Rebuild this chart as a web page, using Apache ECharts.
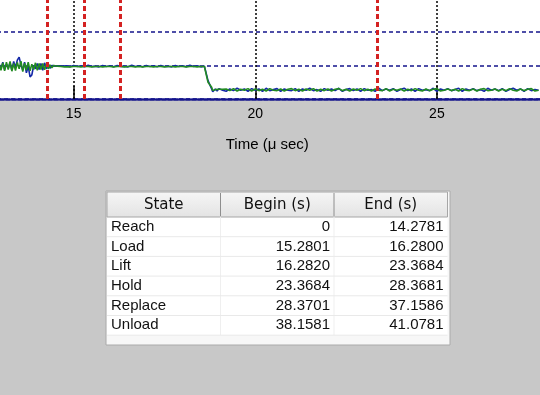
<!DOCTYPE html>
<html>
<head>
<meta charset="utf-8">
<script src="https://cdn.jsdelivr.net/npm/echarts@6/dist/echarts.min.js"></script>
<style>
html,body{margin:0;padding:0;background:#c8c8c8;overflow:hidden;width:540px;height:395px;position:relative;}
#chart{position:absolute;left:-108px;top:-35px;width:727px;height:430px;}
</style>
</head>
<body>
<div id="chart"></div>
<script>
// ---- data ----
const states = ['Reach', 'Load', 'Lift', 'Hold', 'Replace', 'Unload'];
const beginTimes = [0, 15.2801, 16.2820, 23.3684, 28.3701, 38.1581];
const endTimes = [14.2781, 16.2800, 23.3684, 28.3681, 37.1586, 41.0781];
const tableHeaders = ['State', 'Begin (s)', 'End (s)'];
const xTicks = [10, 15, 20, 25, 30];
const xLabel = 'Time (\u03bc sec)';

const time = [
  12.90,12.95,13.00,13.05,13.10,13.15,13.20,13.25,13.30,13.35,13.40,13.45,13.50,13.55,13.60,13.65,13.70,13.75,13.80,13.85,
  13.90,13.95,14.00,14.05,14.10,14.15,14.20,14.25,14.30,14.35,14.40,14.45,14.50,14.55,14.60,14.65,14.70,14.75,
  14.8,14.9,15.0,15.1,15.2,15.3,15.4,15.5,15.6,15.7,15.8,15.9,16.0,16.1,16.2,16.3,16.4,16.5,16.6,16.7,16.8,16.9,
  17.0,17.1,17.2,17.3,17.4,17.5,17.6,17.7,17.8,17.9,18.0,18.1,18.2,18.3,18.4,18.5,18.6,18.7,18.8,
  18.83,18.86,18.90,18.95,19.00,19.05,19.10,19.15,
  19.2,19.3,19.4,19.5,19.6,19.7,19.8,19.9,20.0,20.1,20.2,20.3,20.4,20.5,20.6,20.7,20.8,20.9,21.0,21.1,
  21.2,21.3,21.4,21.5,21.6,21.7,21.8,21.9,22.0,22.1,22.2,22.3,22.4,22.5,22.6,22.7,22.8,22.9,23.0,23.1,
  23.2,23.3,23.4,23.5,23.6,23.7,23.8,23.9,24.0,24.1,24.2,24.3,24.4,24.5,24.6,24.7,24.8,24.9,25.0,25.1,
  25.2,25.3,25.4,25.5,25.6,25.7,25.8,25.9,26.0,26.1,26.2,26.3,26.4,26.5,26.6,26.7,26.8,26.9,27.0,27.1,
  27.2,27.3,27.4,27.5,27.6,27.7,27.8,27.9,28.0
];

const greenSignal = [
  0.92,1.05,0.86,1.08,0.84,1.10,0.88,1.12,0.83,1.06,0.85,1.09,0.90,1.13,0.82,1.07,0.86,1.10,0.84,1.04,
  0.88,1.08,0.86,1.06,0.88,1.06,0.87,1.05,0.90,1.02,0.93,1.00,0.95,0.98,0.96,0.97,0.97,0.96,
  0.97,0.96,0.97,0.97,0.96,0.97,0.97,0.96,0.97,0.97,0.96,0.97,0.97,0.96,0.97,0.97,0.96,0.97,0.97,0.96,
  0.97,0.96,0.97,0.97,0.96,0.97,0.97,0.96,0.97,0.97,0.96,0.97,0.97,0.96,0.97,0.97,0.96,0.97,0.97,
  0.50,0.35,0.25,0.22,0.28,0.25,0.29,0.27,
  0.29,0.24,0.30,0.25,0.31,0.24,0.29,0.26,0.31,0.24,0.30,0.25,0.29,0.24,0.31,0.26,0.25,0.30,0.24,0.29,
  0.31,0.25,0.29,0.24,0.30,0.26,0.31,0.24,0.29,0.25,0.30,0.24,0.29,0.31,0.25,0.29,0.24,0.30,0.26,0.31,
  0.25,0.29,0.24,0.30,0.26,0.25,0.31,0.24,0.29,0.26,0.30,0.24,0.29,0.25,0.31,0.26,0.24,0.30,0.25,0.29,
  0.31,0.24,0.26,0.30,0.25,0.29,0.24,0.31,0.26,0.25,0.30,0.24,0.29,0.31,0.25,0.26,0.30,0.24,0.29,0.25,
  0.31,0.26,0.24,0.30,0.25,0.29,0.31,0.24,0.26
];

const blueSignal = [
  0.96,1.02,0.90,1.10,0.88,1.04,0.92,1.08,0.86,1.12,0.94,1.16,1.25,1.02,0.86,1.10,0.78,0.98,0.66,0.72,
  1.00,0.90,1.06,0.88,1.06,0.86,1.08,0.90,1.04,0.92,1.00,0.95,0.99,0.96,0.99,0.96,0.98,0.97,
  0.99,0.96,1.00,0.97,0.99,0.96,1.01,0.97,0.98,0.96,1.00,0.97,0.99,0.96,1.00,0.97,0.98,0.96,1.01,0.97,
  0.99,0.96,1.00,0.97,0.99,0.96,1.00,0.97,0.98,0.96,1.00,0.97,0.99,0.96,1.01,0.97,0.99,0.96,0.98,
  0.55,0.30,0.22,0.20,0.30,0.24,0.31,0.26,
  0.26,0.31,0.23,0.30,0.25,0.32,0.26,0.30,0.23,0.31,0.26,0.30,0.23,0.32,0.25,0.28,0.31,0.23,0.30,0.26,
  0.25,0.31,0.23,0.30,0.26,0.32,0.25,0.28,0.23,0.31,0.26,0.30,0.25,0.32,0.23,0.28,0.31,0.25,0.30,0.23,
  0.31,0.26,0.28,0.23,0.32,0.25,0.30,0.26,0.31,0.23,0.28,0.32,0.25,0.30,0.23,0.31,0.26,0.28,0.25,0.32,
  0.23,0.30,0.26,0.31,0.25,0.28,0.32,0.23,0.30,0.26,0.31,0.25,0.28,0.23,0.32,0.26,0.30,0.25,0.31,0.23,
  0.28,0.32,0.26,0.30,0.23,0.31,0.25,0.28,0.26
];

// ---- build ----
const xMin = xTicks[0], xMax = xTicks[xTicks.length - 1];
const zip = (a, b) => a.map((t, i) => [t, b[i]]);
const fmt = v => v === 0 ? '0' : v.toFixed(4);

const boundaries = [];
beginTimes.concat(endTimes).forEach(v => {
  if (v > xMin && v < xMax && boundaries.indexOf(v) < 0) boundaries.push(v);
});

// the chart canvas is offset so the visible window starts at (offX, offY)
const offX = 108, offY = 35;

// table graphics
const tX = 106 + offX, tY = 191 + offY, tW = 344, tH = 154;
const colEdges = [107, 220.5, 334, 447.5].map(v => v + offX);
const headH = 25, rowH = 19.7;
const bodyTop = tY + 1 + headH;
const g = [];
g.push({type:'rect', shape:{x:tX, y:tY, width:tW, height:tH}, style:{fill:'#f7f7f7', stroke:'#aaaaaa', lineWidth:1}});
g.push({type:'rect', shape:{x:colEdges[0], y:bodyTop, width:colEdges[3]-colEdges[0], height:rowH*states.length}, style:{fill:'#ffffff'}});
g.push({type:'rect', shape:{x:colEdges[0], y:tY+1, width:colEdges[3]-colEdges[0], height:headH},
  style:{fill:new echarts.graphic.LinearGradient(0,0,0,1,[{offset:0,color:'#f6f6f6'},{offset:1,color:'#e3e3e3'}]), stroke:'#a6a6a6', lineWidth:1}});
[1,2].forEach(c => {
  g.push({type:'line', shape:{x1:colEdges[c], y1:tY+2, x2:colEdges[c], y2:bodyTop-1}, style:{stroke:'#8e8e8e', lineWidth:1}});
  g.push({type:'line', shape:{x1:colEdges[c], y1:bodyTop, x2:colEdges[c], y2:bodyTop+rowH*states.length}, style:{stroke:'#efefef', lineWidth:1}});
});
tableHeaders.forEach((h, c) => {
  g.push({type:'text', style:{text:h, x:(colEdges[c]+colEdges[c+1])/2, y:tY+1+headH/2+0.5, textAlign:'center', textVerticalAlign:'middle',
    font:'15px "DejaVu Sans"', fill:'#111111'}});
});
states.forEach((s, i) => {
  const cy = bodyTop + rowH*(i+0.5);
  g.push({type:'line', shape:{x1:colEdges[0], y1:bodyTop+rowH*(i+1), x2:colEdges[3], y2:bodyTop+rowH*(i+1)}, style:{stroke:'#e9e9e9', lineWidth:1}});
  g.push({type:'text', style:{text:s, x:colEdges[0]+4, y:cy, textAlign:'left', textVerticalAlign:'middle', font:'15px "Liberation Sans"', fill:'#111'}});
  g.push({type:'text', style:{text:fmt(beginTimes[i]), x:colEdges[2]-4, y:cy, textAlign:'right', textVerticalAlign:'middle', font:'15px "Liberation Sans"', fill:'#111'}});
  g.push({type:'text', style:{text:fmt(endTimes[i]), x:colEdges[3]-4, y:cy, textAlign:'right', textVerticalAlign:'middle', font:'15px "Liberation Sans"', fill:'#111'}});
});

const chart = echarts.init(document.getElementById('chart'), null, {renderer:'canvas'});
chart.setOption({
  backgroundColor: '#c8c8c8',
  animation: false,
  grid: {left: 0, right: 0.5, top: 0, bottom: 296, show: true, backgroundColor: '#ffffff', borderWidth: 0,
    containLabel: false, outerBoundsMode: 'none'},
  xAxis: {
    type: 'value', min: xMin, max: xMax, interval: 5,
    name: xLabel, nameLocation: 'middle', nameGap: 38,
    nameTextStyle: {fontSize: 15, color: '#000', fontFamily: 'Liberation Sans', padding: [0,0,0,24]},
    axisLine: {show: true, lineStyle: {color: '#14148c', width: 2.5, type: [4,2]}},
    axisTick: {show: true, inside: true, length: 13, lineStyle: {color: '#000', width: 1.5}},
    axisLabel: {fontSize: 14, color: '#000', fontFamily: 'Liberation Sans', margin: 8, showMinLabel: false, showMaxLabel: false},
    splitLine: {show: true, lineStyle: {color: '#000', width: 1.5, type: [2,2]}}
  },
  yAxis: {
    type: 'value', min: 0, max: 4, interval: 1,
    axisLine: {show: false}, axisTick: {show: false}, axisLabel: {show: false},
    splitLine: {show: true, lineStyle: {color: '#14148c', width: 1.5, type: [4,3]}}
  },
  series: [
    {type: 'line', name: 'blue', data: zip(time, blueSignal), showSymbol: false, symbol: 'none',
      lineStyle: {color: '#1428a8', width: 1.6}, z: 3,
      markLine: {silent: true, symbol: 'none', label: {show: false},
        lineStyle: {color: '#d42222', width: 3, type: [5,3]},
        data: boundaries.map(v => ({xAxis: v}))}},
    {type: 'line', name: 'green', data: zip(time, greenSignal), showSymbol: false, symbol: 'none',
      lineStyle: {color: '#228b22', width: 1.6}, z: 4}
  ],
  graphic: g
});
</script>
</body>
</html>
